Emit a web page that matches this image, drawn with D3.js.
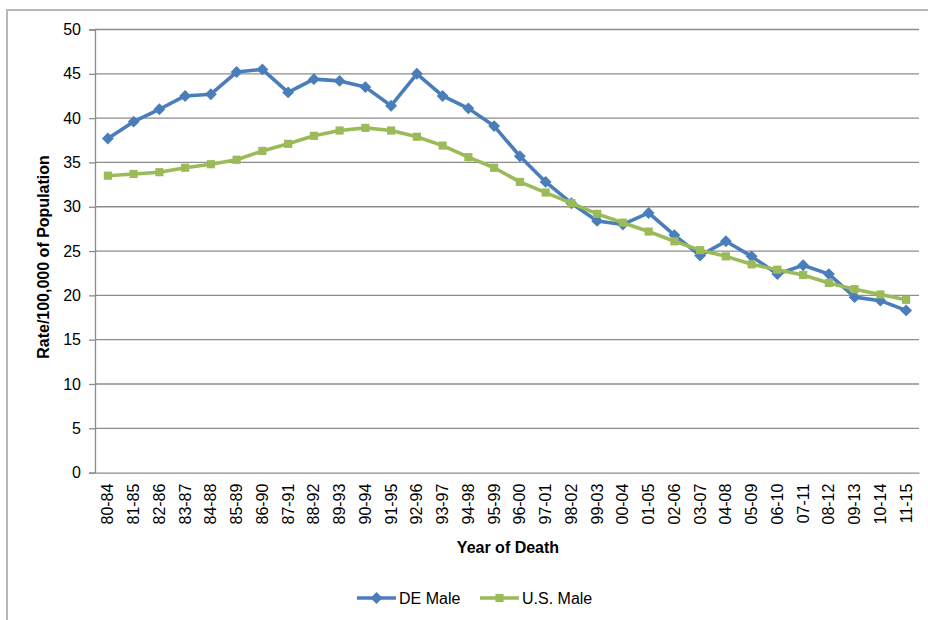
<!DOCTYPE html>
<html>
<head>
<meta charset="utf-8">
<script src="https://cdn.jsdelivr.net/npm/d3@7"></script>
<style>
  html, body { margin: 0; padding: 0; background: #fff; }
  svg { display: block; font-family: "Liberation Sans", Arial, sans-serif; }
</style>
</head>
<body>
<svg id="chart" width="928" height="620"></svg>
<script>
// Five-year periods of death
const periods = ["80-84","81-85","82-86","83-87","84-88","85-89","86-90","87-91","88-92","89-93",
  "90-94","91-95","92-96","93-97","94-98","95-99","96-00","97-01","98-02","99-03",
  "00-04","01-05","02-06","03-07","04-08","05-09","06-10","07-11","08-12","09-13","10-14","11-15"];

// Rate per 100,000 of population
const deMale = [37.7,39.6,41.0,42.5,42.7,45.2,45.5,42.9,44.4,44.2,
  43.5,41.4,45.0,42.5,41.1,39.1,35.7,32.8,30.4,28.4,
  28.0,29.3,26.8,24.5,26.1,24.4,22.4,23.4,22.4,19.8,19.4,18.3];
const usMale = [33.5,33.7,33.9,34.4,34.8,35.3,36.3,37.1,38.0,38.6,
  38.9,38.6,37.9,36.9,35.6,34.4,32.8,31.6,30.4,29.2,
  28.2,27.2,26.1,25.1,24.4,23.5,22.9,22.3,21.4,20.7,20.1,19.5];

const yTicks = [0,5,10,15,20,25,30,35,40,45,50];
const seriesNames = ["DE Male","U.S. Male"];

const blue = "#4a7ebb", green = "#9bbb59", grid = "#8c8c8c";
const font = "'Liberation Sans', Arial, sans-serif";

const svg = d3.select("#chart");
const plot = { left: 95, right: 919, top: 29.5, bottom: 472.6 };

// Outer chart frame (left and top edges)
svg.append("path")
  .attr("d", "M7,620 V10 H928")
  .attr("fill", "none").attr("stroke", "#b8b8b8").attr("stroke-width", 2);

const x = d3.scaleBand().domain(periods).range([plot.left, plot.right]).paddingInner(0).paddingOuter(0);
const y = d3.scaleLinear().domain([0, 50]).range([plot.bottom, plot.top]);
const cx = d => x(d) + x.bandwidth() / 2;

// Horizontal gridlines
svg.append("g").selectAll("line")
  .data(yTicks.filter(t => t > 0))
  .join("line")
  .attr("x1", plot.left).attr("x2", plot.right)
  .attr("y1", d => y(d)).attr("y2", d => y(d))
  .attr("stroke", grid).attr("stroke-width", 1.3);

// Y axis
const yAxis = svg.append("g")
  .attr("transform", `translate(${plot.left},0)`)
  .call(d3.axisLeft(y).tickValues(yTicks).tickSize(6).tickPadding(8));
yAxis.select(".domain").attr("stroke", grid).attr("stroke-width", 1.3);
yAxis.selectAll(".tick line").attr("stroke", grid).attr("stroke-width", 1.3);
yAxis.selectAll(".tick text").attr("font-size", 16).attr("fill", "#000")
  .attr("font-family", font);

// X axis
const xAxis = svg.append("g")
  .attr("transform", `translate(0,${plot.bottom})`)
  .call(d3.axisBottom(x).tickSize(0).tickPadding(0));
xAxis.select(".domain").attr("stroke", grid).attr("stroke-width", 1.3);
xAxis.selectAll(".tick text")
  .attr("font-size", 16).attr("fill", "#000")
  .attr("font-family", font)
  .attr("transform", "rotate(-90)")
  .attr("text-anchor", "end")
  .attr("x", -11).attr("y", 0).attr("dy", "0.35em");

// Axis titles
svg.append("text")
  .attr("transform", "translate(49,257) rotate(-90)")
  .attr("text-anchor", "middle").attr("font-weight", "bold").attr("font-size", 16)
  .text("Rate/100,000 of Population");
svg.append("text")
  .attr("x", 508).attr("y", 553)
  .attr("text-anchor", "middle").attr("font-weight", "bold").attr("font-size", 16)
  .text("Year of Death");

// Series lines and markers
const line = d3.line().x((d, i) => cx(periods[i])).y(d => y(d));
const diamond = d3.symbol().type(d3.symbolDiamond2).size(90);
const square = d3.symbol().type(d3.symbolSquare2).size(85);

function drawSeries(values, color, symbol) {
  svg.append("path").datum(values)
    .attr("d", line).attr("fill", "none")
    .attr("stroke", color).attr("stroke-width", 3.6)
    .attr("stroke-linejoin", "round");
  svg.append("g").selectAll("path")
    .data(values)
    .join("path")
    .attr("transform", (d, i) => `translate(${cx(periods[i])},${y(d)})`)
    .attr("d", symbol).attr("fill", color);
}
drawSeries(deMale, blue, diamond);
drawSeries(usMale, green, square);

// Legend
const legend = [
  { name: seriesNames[0], color: blue, symbol: diamond, x: 357 },
  { name: seriesNames[1], color: green, symbol: square, x: 480 }
];
const lg = svg.append("g").selectAll("g").data(legend).join("g")
  .attr("transform", d => `translate(${d.x},598)`);
lg.append("line").attr("x1", 0).attr("x2", 39).attr("y1", 0).attr("y2", 0)
  .attr("stroke", d => d.color).attr("stroke-width", 3.6);
lg.append("path").attr("transform", "translate(19.5,0)")
  .attr("d", d => d.symbol()).attr("fill", d => d.color);
lg.append("text").attr("x", 42).attr("y", 0).attr("dy", "0.36em")
  .attr("font-size", 16).attr("fill", "#000").attr("font-family", font)
  .text(d => d.name);
</script>
</body>
</html>
